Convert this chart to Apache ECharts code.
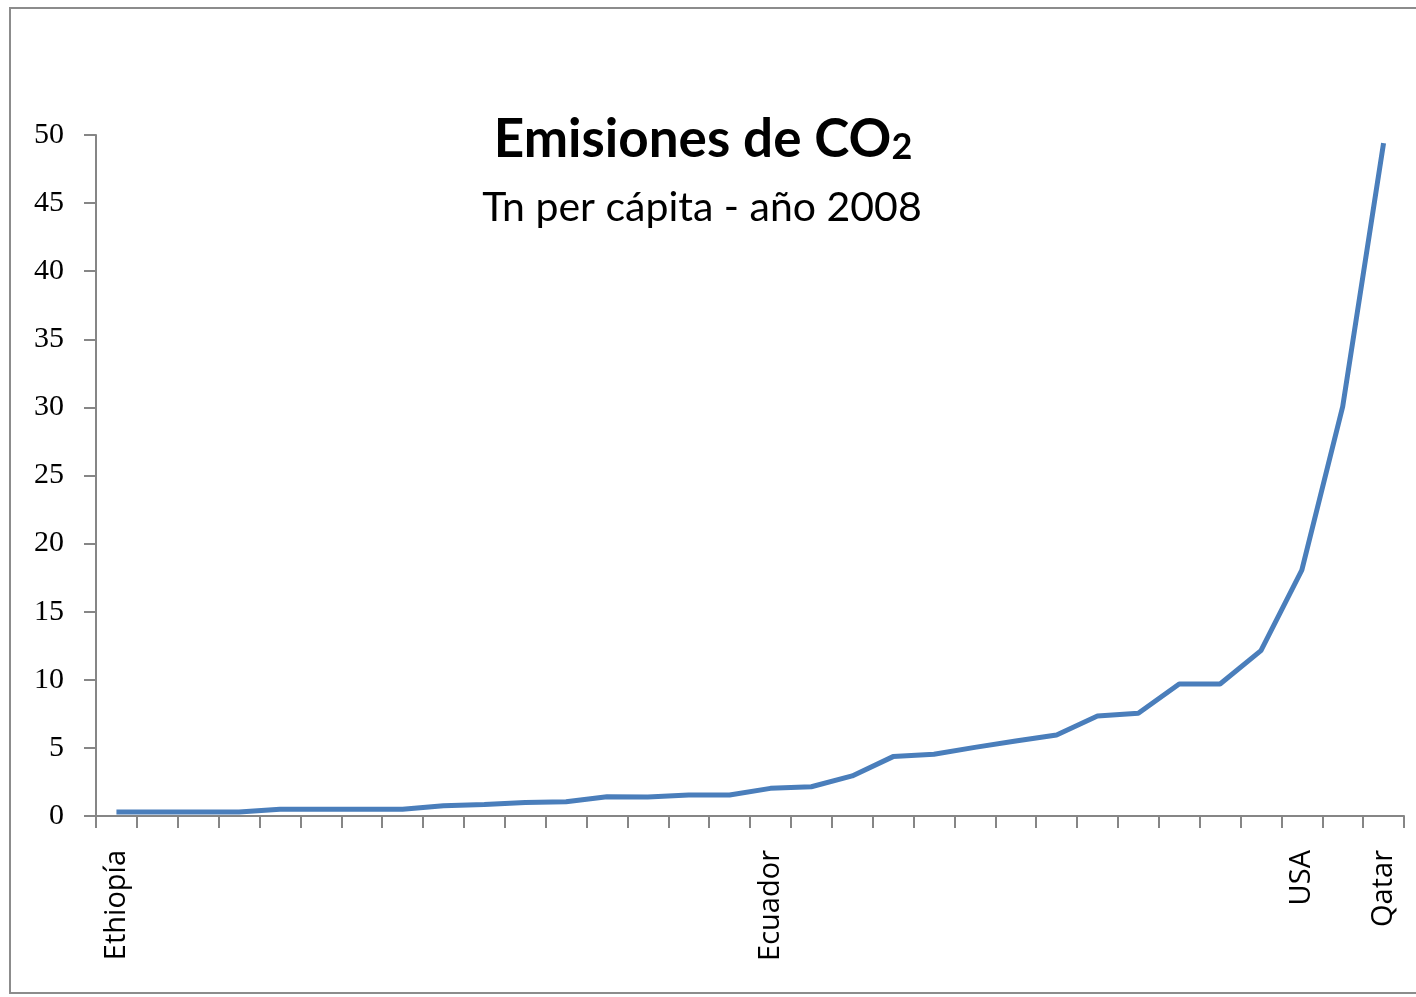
<!DOCTYPE html>
<html>
<head>
<meta charset="utf-8">
<script src="https://cdn.jsdelivr.net/npm/echarts@6/dist/echarts.min.js"></script>
<style>
  html, body { margin: 0; padding: 0; background: #fff; }
  #main { width: 1416px; height: 997px; }
</style>
</head>
<body>
<div id="main"></div>
<script>
// 32 paises ordenados por emisiones; solo algunos llevan nombre en el eje
var countries = [
    'Ethiopía', '', '', '', '', '', '', '', '', '', '', '', '', '', '', '',
    'Ecuador', '', '', '', '', '', '', '', '', '', '', '', '', 'USA', '', 'Qatar'
];
var emissions = [
    0.3, 0.3, 0.3, 0.3, 0.5, 0.5, 0.5, 0.5, 0.76, 0.85, 1.0, 1.05,
    1.42, 1.4, 1.54, 1.54, 2.03, 2.15, 2.94, 4.36, 4.53, 5.04, 5.5, 5.95,
    7.34, 7.54, 9.69, 9.69, 12.14, 18.06, 30.05, 49.4
];
var yTicks = [0, 5, 10, 15, 20, 25, 30, 35, 40, 45, 50];

var dom = document.getElementById('main');
var myChart = echarts.init(dom);

myChart.setOption({
    backgroundColor: '#fff',
    animation: false,
    graphic: [
        {
            type: 'rect',
            shape: { x: 10, y: 8, width: 1420, height: 985 },
            style: { fill: null, stroke: '#8c8c8c', lineWidth: 2 },
            z: -1
        },
        {
            type: 'text',
            x: 703,
            y: 140,
            style: {
                text: 'Emisiones de CO{sub|2}',
                font: 'bold 53px Lato',
                fill: '#000',
                align: 'center',
                verticalAlign: 'middle',
                rich: {
                    sub: { font: 'bold 36px Lato', fill: '#000', padding: [14, 0, 0, 0] }
                }
            }
        },
        {
            type: 'text',
            x: 702,
            y: 208,
            style: {
                text: 'Tn per cápita - año 2008',
                font: '41px Lato',
                fill: '#000',
                align: 'center',
                verticalAlign: 'middle'
            }
        }
    ],
    grid: {
        left: 96,
        right: 12,
        top: 135,
        bottom: 181,
        containLabel: false
    },
    xAxis: {
        type: 'category',
        data: countries,
        boundaryGap: true,
        axisLine: { lineStyle: { color: '#868686', width: 2 } },
        axisTick: { show: true, length: 12, interval: 0, lineStyle: { color: '#868686', width: 2 } },
        axisLabel: {
            interval: 0,
            rotate: 90,
            margin: 34,
            color: '#000',
            fontFamily: 'Open Sans',
            fontSize: 29
        }
    },
    yAxis: {
        type: 'value',
        min: 0,
        max: 50,
        interval: 5,
        splitLine: { show: false },
        axisLine: { show: true, lineStyle: { color: '#868686', width: 2 } },
        axisTick: { show: true, length: 12, lineStyle: { color: '#868686', width: 2 } },
        axisLabel: {
            margin: 32,
            color: '#000',
            fontFamily: 'Liberation Serif',
            fontSize: 30,
            formatter: function (v) {
                return yTicks.indexOf(v) >= 0 ? String(v) : '';
            }
        }
    },
    series: [{
        type: 'line',
        data: emissions,
        showSymbol: false,
        lineStyle: { color: '#4a7ebb', width: 5 },
        itemStyle: { color: '#4a7ebb' }
    }]
});
</script>
</body>
</html>
